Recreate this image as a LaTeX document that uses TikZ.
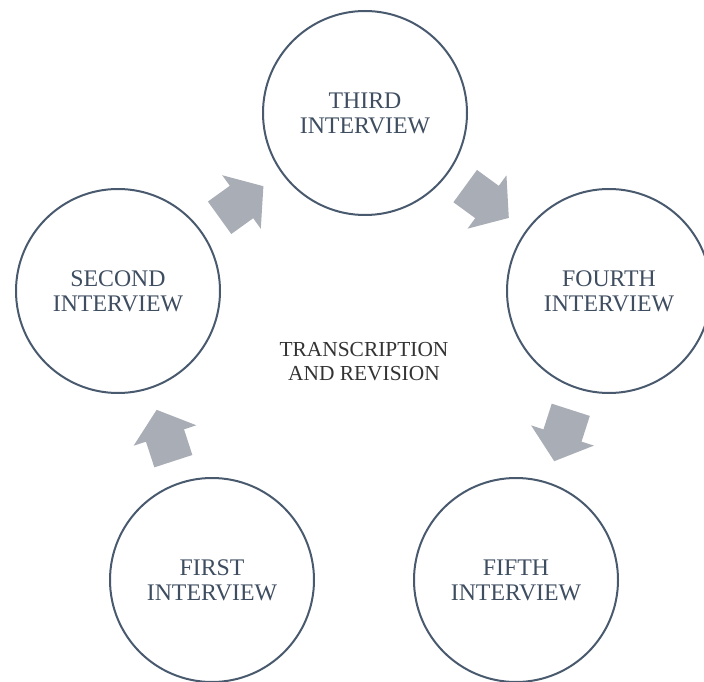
\documentclass[tikz,border=0pt]{standalone}
\usepackage{fontspec}
\setmainfont{Liberation Serif}
\usetikzlibrary{calc}
\definecolor{ringcol}{HTML}{4A5A6E}
\definecolor{labelcol}{HTML}{3E4D60}
\definecolor{arrowcol}{HTML}{A9ADB5}
\definecolor{midcol}{HTML}{333333}
\tikzset{
  stage/.style={circle, draw=ringcol, line width=2pt, minimum size=204pt, inner sep=0pt,
    align=center, text=labelcol, font=\fontsize{23.8}{25}\selectfont},
  hub/.style={align=center, text=midcol, inner sep=0pt, font=\fontsize{21.4}{24}\selectfont},
  blockarrow/.pic={\fill[arrowcol] (-27pt,-20pt) -- (0pt,-20pt) -- (0pt,-33pt) -- (27pt,0pt)
    -- (0pt,33pt) -- (0pt,20pt) -- (-27pt,20pt) -- cycle;}
}
\newcommand\stageflow[2]{\path let \p1=($(#2.center)-(#1.center)$), \n1={atan2(\y1,\x1)} in
  pic[rotate=\n1] at ($(#1.center)!0.5!(#2.center)$) {blockarrow};}
\begin{document}
\begin{tikzpicture}[x=1pt,y=1pt]
\useasboundingbox (0,0) rectangle (704,681);
\node[stage] (third)  at (365,568) {THIRD\\INTERVIEW};
\node[stage] (second) at (118,390) {SECOND\\INTERVIEW};
\node[stage] (fourth) at (609,390) {FOURTH\\INTERVIEW};
\node[stage] (first)  at (212,101) {FIRST\\INTERVIEW};
\node[stage] (fifth)  at (516,101) {FIFTH\\INTERVIEW};
\node[hub] (hub) at (364,319) {TRANSCRIPTION\\AND REVISION};
\stageflow{first}{second}
\stageflow{second}{third}
\stageflow{third}{fourth}
\stageflow{fourth}{fifth}
\end{tikzpicture}
\end{document}
